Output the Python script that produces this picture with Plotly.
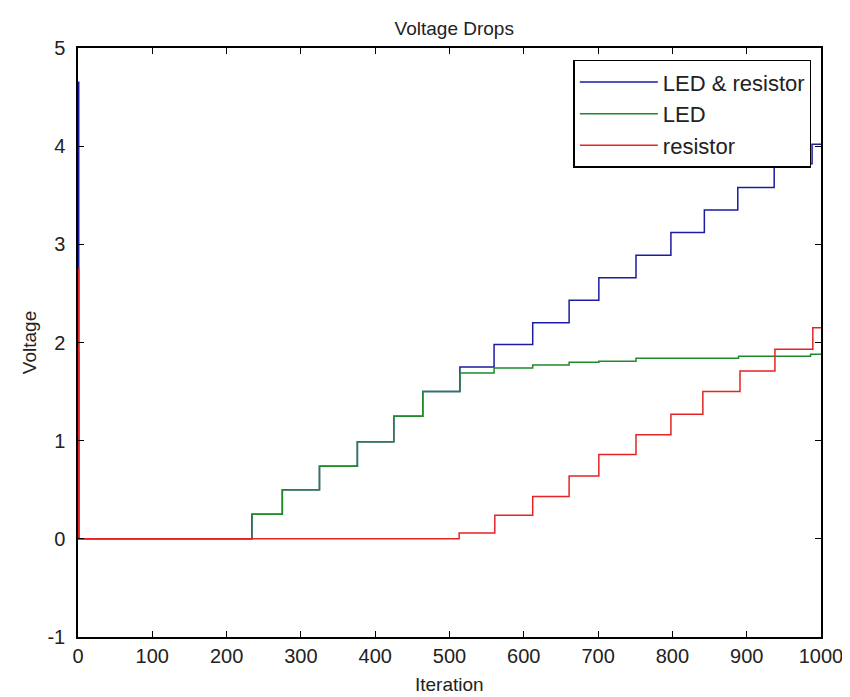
import plotly.graph_objects as go

# step change points (iteration, voltage)
led_res_iter = [0, 1, 234, 275, 325, 376, 425, 464, 514, 560, 612, 661, 701, 751, 798, 843, 888, 937, 988, 1000]
led_res_volt = [4.65, 0, 0.25, 0.50, 0.74, 0.99, 1.25, 1.50, 1.75, 1.98, 2.20, 2.43, 2.66, 2.89, 3.12, 3.35, 3.58, 3.82, 4.02, 4.02]

led_iter = [0, 1, 234, 275, 325, 376, 425, 464, 514, 560, 612, 661, 701, 751, 889, 986, 1000]
led_volt = [1.9, 0, 0.25, 0.50, 0.74, 0.99, 1.25, 1.50, 1.69, 1.74, 1.77, 1.80, 1.81, 1.84, 1.86, 1.88, 1.88]

res_iter = [0, 1, 513, 561, 612, 661, 701, 751, 798, 841, 891, 938, 989, 1000]
res_volt = [2.75, 0, 0.06, 0.24, 0.43, 0.64, 0.86, 1.06, 1.27, 1.50, 1.71, 1.93, 2.15, 2.15]

x_ticks = list(range(0, 1001, 100))
y_ticks = list(range(-1, 6))
y_labels = ['-1', '0', '1', '2', '3', '4', '5']

font_family = "Liberation Sans, Arial, sans-serif"

fig = go.Figure()
fig.add_trace(go.Scatter(x=led_res_iter, y=led_res_volt, name='LED & resistor', mode='lines',
                         line=dict(color='#1c1ca0', width=1.5, shape='hv')))
fig.add_trace(go.Scatter(x=led_iter, y=led_volt, name='LED', mode='lines',
                         line=dict(color='#1f8a2a', width=1.5, shape='hv')))
fig.add_trace(go.Scatter(x=res_iter, y=res_volt, name='resistor', mode='lines',
                         line=dict(color='#e42424', width=1.5, shape='hv')))

axis_style = dict(showline=True, linecolor='black', linewidth=1.5, mirror='ticks',
                  ticks='inside', ticklen=6, tickcolor='black', showgrid=False,
                  zeroline=False, automargin=False, ticklabeloverflow='allow',
                  tickfont=dict(size=20, color='#222'))

# page body has an 8px margin, so the figure is sized to fit inside the window
fig.update_layout(
    width=842, height=689,
    title=dict(text='Voltage Drops', x=0.53, xanchor='center', y=1 - 20 / 689, yanchor='middle',
               font=dict(size=19, color='#222')),
    font=dict(family=font_family, color='#222'),
    paper_bgcolor='white', plot_bgcolor='white',
    margin=dict(l=70, r=29, t=40, b=60),
    xaxis=dict(range=[0, 1000], tickvals=x_ticks, ticklabelstandoff=0, **axis_style),
    yaxis=dict(range=[-1, 5], tickvals=y_ticks, ticktext=y_labels, ticklabelstandoff=7,
               title=dict(text='Voltage', font=dict(size=19), standoff=6), **axis_style),
    legend=dict(x=0.987, y=0.98, xanchor='right', yanchor='top', bgcolor='white',
                bordercolor='black', borderwidth=1.5, font=dict(size=22),
                itemwidth=78, tracegroupgap=0),
    showlegend=True,
)

# x axis title placed by hand (standoff is ignored without automargin)
fig.add_annotation(text='Iteration', xref='paper', yref='paper', x=0.5, y=-0.08,
                   xanchor='center', yanchor='middle', showarrow=False,
                   font=dict(size=19, color='#222'))

fig.write_html("out.html")
